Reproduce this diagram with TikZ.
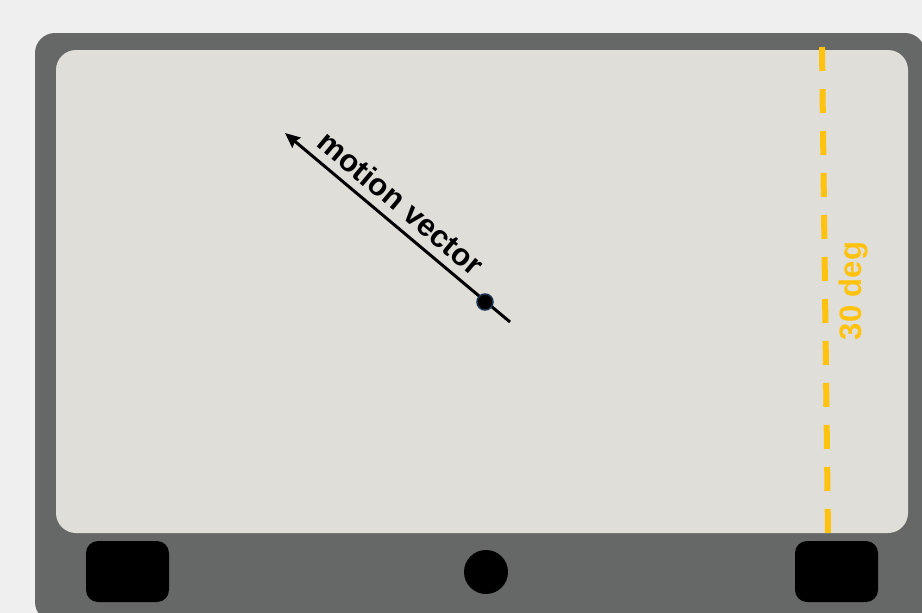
\documentclass[tikz,border=0pt]{standalone}
\usepackage{fontspec}
\setmainfont{Liberation Sans}
\usetikzlibrary{arrows.meta}
\definecolor{pagebg}{HTML}{EFEFEF}
\definecolor{framegray}{HTML}{666867}
\definecolor{screen}{HTML}{DFDED9}
\definecolor{amber}{HTML}{FFC20E}
\definecolor{dotedge}{HTML}{1B3350}
\tikzset{
  framebox/.style={fill=framegray, draw=none, rounded corners=20pt},
  screenbox/.style={fill=screen, draw=none, rounded corners=20pt},
  footbox/.style={fill=black, draw=none, rounded corners=12pt},
  guide/.style={draw=amber, line width=6pt, dash pattern=on 24pt off 18pt},
  guidelabel/.style={text=amber, font=\bfseries\fontsize{31}{31}\selectfont, inner sep=0pt},
  vectorline/.style={line width=3pt, -{Stealth[length=15pt,width=13pt,inset=2pt]}},
  vectorlabel/.style={font=\bfseries\fontsize{31}{31}\selectfont, inner sep=0pt},
  pivot/.style={circle, fill=black, draw=dotedge, line width=1.5pt, minimum size=16pt, inner sep=0pt}
}
\begin{document}
\begin{tikzpicture}[x=1pt,y=-1pt]
\useasboundingbox (0,0) rectangle (922,613);
\clip (0,0) rectangle (922,613);
\fill[pagebg] (0,0) rectangle (922,613);
% frame
\path[framebox] (35,33) rectangle (925,622);
\path[screenbox] (56,50) rectangle (908,533);
% feet
\path[footbox] (86,541) rectangle (169,602);
\path[footbox] (795,541) rectangle (878,602);
\node[circle, fill=black, minimum size=44pt, inner sep=0pt] (knob) at (486,572) {};
% guide
\coordinate (gtop) at (822,47);
\coordinate (gbot) at (828,533);
\draw[guide] (gtop) -- (gbot);
\node[guidelabel, rotate=90] (glabel) at (854,291) {30 deg};
% motion vector
\coordinate (vstart) at (510,322);
\coordinate (vtip) at (285,133);
\draw[vectorline] (vstart) -- (vtip);
\node[pivot] (dot) at (485,302) {};
\node[vectorlabel, rotate=-40] (vlabel) at (401,203) {motion vector};
\end{tikzpicture}
\end{document}
